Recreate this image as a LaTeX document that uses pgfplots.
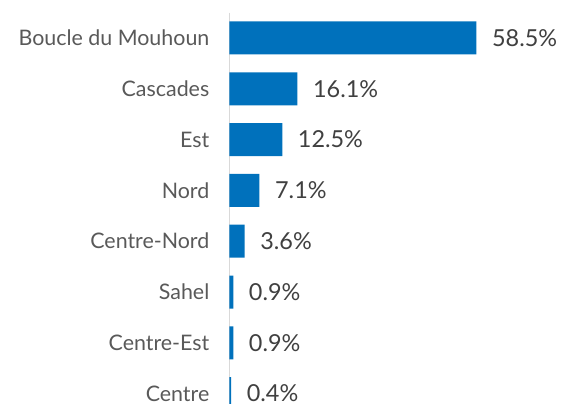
\documentclass[border=0pt]{standalone}
\usepackage{fontspec}
\setmainfont{Lato}
\usepackage{pgfplots}
\pgfplotsset{compat=1.18}
\definecolor{barblue}{HTML}{0071BC}
\definecolor{labgray}{HTML}{595959}
\definecolor{valgray}{HTML}{404040}
\definecolor{axgray}{HTML}{D9D9D9}
\begin{document}
\begin{tikzpicture}
\useasboundingbox (0,0) rectangle (562pt,404pt);
\clip (0,0) rectangle (562pt,404pt);
\begin{axis}[
    at={(229.5pt,391.4pt)}, anchor=north west,
    scale only axis,
    width=295.5pt, height=406.4pt,
    xbar, bar width=33pt,
    xmin=0, xmax=70,
    ymin=-0.5, ymax=7.5, y dir=reverse,
    axis x line=none,
    axis y line*=left,
    y axis line style={draw=axgray, line width=1.5pt, -},
    ytick={0,...,7},
    yticklabels={Boucle du Mouhoun, Cascades, Est, Nord, Centre-Nord, Sahel, Centre-Est, Centre},
    major tick length=0pt,
    yticklabel style={font=\fontsize{21.4}{25}\selectfont, text=labgray, inner sep=0pt, xshift=-20pt},
    nodes near coords={\pgfmathprintnumber[fixed,precision=1,fixed zerofill]{\pgfplotspointmeta}\%},
    nodes near coords style={font=\fontsize{23.4}{27}\selectfont, text=valgray, anchor=west, inner sep=0pt, xshift=15.5pt},
    /pgf/number format/assume math mode=true,
    clip=false,
]
\addplot[draw=none, fill=barblue] coordinates {
    (58.5,0) (16.1,1) (12.5,2) (7.1,3) (3.6,4) (0.9,5) (0.9,6) (0.4,7)
};
\end{axis}
\end{tikzpicture}
\end{document}
